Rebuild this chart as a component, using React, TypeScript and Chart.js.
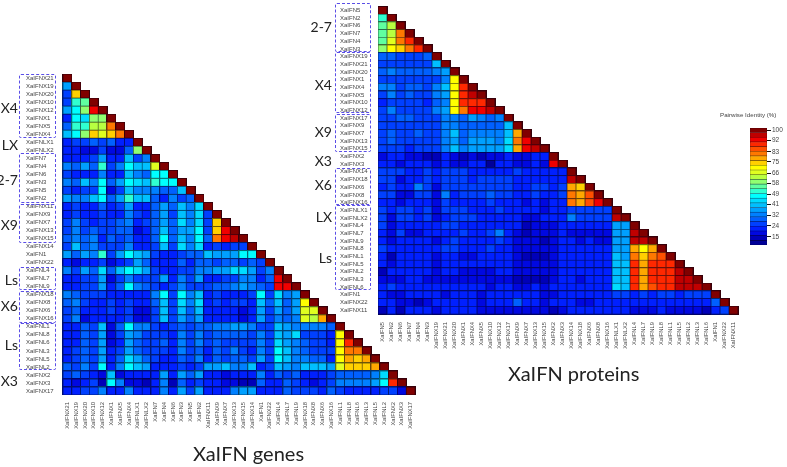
import React, { useEffect, useRef } from "react";
import { Chart, registerables } from "chart.js";

Chart.register(...registerables);

// ---------- data ----------
const geneLabels = [
  "XaIFNX21","XaIFNX19","XaIFNX20","XaIFNX10","XaIFNX12","XaIFNX1","XaIFNX5","XaIFNX4",
  "XaIFNLX1","XaIFNLX2",
  "XaIFN7","XaIFN4","XaIFN6","XaIFN3","XaIFN5","XaIFN2",
  "XaIFNX11","XaIFNX9","XaIFNX7","XaIFNX13","XaIFNX15",
  "XaIFNX14","XaIFN1","XaIFNX22",
  "XaIFNL4","XaIFNL7","XaIFNL9",
  "XaIFNX18","XaIFNX8","XaIFNX6","XaIFNX16",
  "XaIFNL1","XaIFNL8","XaIFNL6","XaIFNL3","XaIFNL5","XaIFNL2",
  "XaIFNX2","XaIFNX3","XaIFNX17",
];

const geneIdentity: number[][] = [
  [100],
  [36,100],
  [27,71,100],
  [27,47,50,100],
  [36,43,55,89,100],
  [24,43,41,57,55,100],
  [30,46,46,60,60,78,100],
  [39,43,55,71,64,72,80,100],
  [24,27,27,30,27,30,24,24,100],
  [24,24,21,21,27,21,21,30,57,100],
  [24,24,24,27,36,24,24,40,27,33,100],
  [33,30,36,30,46,27,33,43,39,39,62,100],
  [27,24,24,24,33,24,24,39,33,30,43,43,100],
  [33,30,39,33,43,30,36,43,41,39,46,43,43,100],
  [27,24,27,27,43,21,27,40,33,33,33,30,30,38,100],
  [36,33,33,38,44,30,36,47,40,40,30,24,33,27,30,100],
  [24,27,24,24,30,24,27,36,24,24,30,36,30,39,33,41,100],
  [24,27,24,24,27,24,24,33,27,24,30,36,27,39,33,41,27,100],
  [27,33,27,24,27,27,30,33,24,27,30,36,30,41,33,41,27,71,100],
  [27,33,27,30,27,27,30,30,21,24,30,39,30,36,36,43,27,71,89,100],
  [30,33,30,33,24,30,27,30,24,24,30,43,30,39,33,43,30,78,91,94,100],
  [27,39,30,33,27,27,27,33,24,24,27,39,27,41,33,41,24,27,24,27,27,100],
  [36,30,36,33,46,27,36,44,39,36,27,24,24,27,30,30,39,36,36,36,43,43,100],
  [24,21,24,24,27,21,24,27,36,30,24,24,24,30,24,30,30,27,30,30,27,30,27,100],
  [33,27,36,30,42,30,39,43,41,36,27,24,24,27,27,33,33,36,36,41,41,36,27,33,100],
  [24,24,27,27,36,21,27,33,27,27,27,36,24,33,27,36,24,24,27,27,33,33,24,30,89,100],
  [24,24,27,27,36,24,30,44,33,30,27,24,27,33,27,27,27,30,30,33,36,33,30,27,89,89,100],
  [33,30,27,27,27,24,24,24,24,24,33,43,27,43,33,39,24,27,24,24,24,27,43,27,41,33,36,100],
  [30,33,27,24,24,27,24,27,24,24,30,39,27,41,33,41,24,27,24,27,27,24,39,30,39,30,36,66,100],
  [27,30,24,24,24,27,24,27,21,21,27,39,27,39,30,39,24,24,24,24,21,24,36,27,36,30,36,62,62,100],
  [27,33,21,24,24,24,24,27,21,21,27,39,27,36,30,36,24,24,24,24,21,24,36,27,33,30,33,62,60,75,100],
  [24,24,30,27,39,21,30,43,33,33,27,24,27,30,27,30,30,33,33,36,36,33,27,27,39,36,33,33,33,33,30,100],
  [24,24,30,27,36,21,27,36,33,27,27,27,24,33,27,33,27,30,30,30,30,27,33,27,39,36,41,27,27,27,24,66,100],
  [24,24,30,27,36,21,24,36,30,27,27,30,24,33,27,33,27,30,27,27,27,27,33,27,41,36,33,30,27,27,24,66,85,100],
  [24,27,30,27,36,24,27,36,30,27,27,27,24,33,27,30,24,30,27,33,27,24,33,27,43,39,33,30,27,27,27,68,78,78,100],
  [24,27,30,27,36,24,30,41,36,30,27,24,24,30,27,33,24,30,27,30,30,27,36,27,43,39,33,33,30,30,24,66,75,71,75,100],
  [30,27,33,27,45,24,33,45,39,36,24,24,24,27,24,27,36,36,38,33,33,39,24,27,39,36,33,39,39,39,36,62,71,71,71,75,100],
  [27,30,27,24,21,39,21,24,24,24,24,36,24,36,30,36,24,24,21,24,24,24,33,24,30,27,30,24,24,24,27,30,30,30,30,33,41,100],
  [24,21,24,27,18,44,33,21,21,18,24,33,18,30,24,27,24,24,21,21,18,18,30,24,24,30,27,24,21,24,27,33,33,33,33,36,43,85,100],
  [24,24,27,27,33,24,24,33,24,24,24,33,24,36,27,36,24,24,24,33,36,36,24,24,24,30,27,27,27,24,30,27,24,24,24,24,27,27,21,100],
];

const proteinLabels = [
  "XaIFN5","XaIFN2","XaIFN6","XaIFN7","XaIFN4","XaIFN3",
  "XaIFNX19","XaIFNX21","XaIFNX20","XaIFNX1","XaIFNX4","XaIFNX5","XaIFNX10","XaIFNX12",
  "XaIFNX17","XaIFNX9","XaIFNX7","XaIFNX13","XaIFNX15",
  "XaIFNX2","XaIFNX3",
  "XaIFNX14","XaIFNX18","XaIFNX6","XaIFNX8","XaIFNX16",
  "XaIFNLX1","XaIFNLX2",
  "XaIFNL4","XaIFNL7","XaIFNL9","XaIFNL8","XaIFNL1","XaIFNL5","XaIFNL2","XaIFNL3","XaIFNL6",
  "XaIFN1","XaIFNX22","XaIFNX11",
];

const proteinIdentity: number[][] = [
  [100],
  [46,100],
  [52,60,100],
  [50,60,79,100],
  [52,64,79,87,100],
  [57,66,72,77,85,100],
  [30,30,27,27,27,30,100],
  [27,27,27,27,27,27,38,100],
  [30,33,30,30,30,30,33,36,100],
  [27,27,27,27,27,27,27,33,66,100],
  [33,33,27,30,30,27,33,39,66,87,100],
  [27,33,27,30,27,27,33,36,66,87,92,100],
  [24,27,27,27,27,24,30,33,66,85,87,87,100],
  [27,33,27,27,27,27,33,36,66,79,89,89,94,100],
  [27,27,30,30,27,27,27,33,33,30,36,33,30,33,100],
  [27,27,27,27,27,27,27,33,33,30,30,30,30,30,39,100],
  [27,30,27,27,30,27,27,33,39,30,33,33,33,33,39,75,100],
  [27,30,27,27,27,27,27,33,36,30,36,36,36,33,41,79,88,100],
  [27,27,27,24,27,27,27,33,39,33,36,36,36,36,41,75,88,93,100],
  [21,24,24,21,21,18,18,24,21,18,21,18,21,21,24,21,21,24,24,100],
  [24,24,21,24,24,24,21,24,21,21,24,24,15,24,24,21,21,24,21,89,100],
  [27,27,27,24,24,27,24,27,27,27,24,24,24,24,24,27,24,24,24,24,24,100],
  [27,27,21,24,24,27,24,27,27,27,24,27,27,27,27,24,24,24,24,24,24,94,100],
  [24,27,24,24,33,27,21,27,27,27,27,27,27,27,27,24,24,27,27,24,27,75,71,100],
  [27,27,21,21,27,27,21,32,24,27,27,27,30,27,27,24,24,27,24,24,27,77,75,83,100],
  [24,24,21,24,24,24,21,27,24,24,24,24,27,24,24,24,21,24,21,24,24,79,75,82,90,100],
  [27,24,27,27,24,27,21,27,27,27,24,24,24,27,24,24,24,24,21,24,24,27,27,27,27,27,100],
  [27,21,27,27,24,27,21,24,27,27,27,24,24,24,24,24,21,21,24,24,24,33,27,27,27,27,94,100],
  [27,21,24,24,24,24,24,27,27,24,24,24,24,24,24,24,18,21,21,21,24,24,24,24,24,24,36,36,100],
  [24,21,27,21,21,24,24,24,24,27,24,24,27,32,24,21,18,21,21,21,24,21,21,21,21,21,36,36,94,100],
  [24,21,24,24,24,24,21,24,27,24,24,24,24,27,24,21,21,21,18,21,24,24,21,24,21,21,36,36,94,94,100],
  [27,24,24,24,24,24,24,27,27,24,24,24,27,24,24,21,21,21,21,21,24,24,24,24,24,24,36,36,75,66,75,100],
  [24,18,24,24,24,24,21,24,24,21,21,24,24,24,24,21,18,18,18,21,24,24,24,24,24,24,39,36,79,70,78,82,100],
  [24,21,24,24,24,24,21,24,24,24,24,24,24,24,24,21,21,21,21,21,24,24,24,24,24,24,40,39,84,76,84,86,86,100],
  [18,24,24,24,24,24,21,24,24,21,21,21,21,24,24,21,21,21,21,21,24,24,24,24,24,24,40,39,84,76,84,87,87,94,100],
  [21,21,21,24,24,21,21,21,21,21,21,21,21,21,21,18,18,18,18,21,24,24,21,24,24,24,39,38,86,76,85,87,87,94,94,100],
  [24,27,24,24,24,24,24,24,24,24,24,24,21,24,24,21,21,24,21,24,24,24,24,24,24,24,42,40,84,75,83,86,86,94,94,94,100],
  [24,21,21,24,24,24,24,21,24,24,24,21,24,24,24,24,24,24,21,21,24,24,24,24,24,24,27,27,24,27,24,27,27,24,27,27,27,100],
  [24,24,21,21,18,21,24,24,24,24,24,21,24,24,24,30,24,24,21,24,24,24,21,21,24,24,24,24,24,24,24,24,24,24,24,24,24,30,100],
  [18,24,18,24,24,24,21,24,24,24,24,21,21,21,21,21,21,21,21,18,21,24,24,24,24,24,24,24,21,21,21,24,21,21,21,21,18,24,27,100],
];

const levelColors = [
  "#000098","#0000b8","#0008e0","#0020ff","#0040ff","#0060ff","#0080ff","#00a0ff","#00c0ff","#00dcff",
  "#00ffff","#30ffd0","#60ffa0","#90ff70","#b8ff40","#e0ff20","#ffff00","#ffd000","#ffa800","#ff7800",
  "#ff5000","#ff2800","#f00000","#c00000","#800000",
];
const levelUpper = [16,19.5,22.5,25.5,28.5,31.5,34.5,37.5,40,42,45,48,53,58,61,65,68.7,72.5,76.2,80,83.7,87.4,91.2,96,101];
const barEdges = [8.6,12.3,16.1,19.8,23.6,27.3,31,34.8,38.5,42.2,46,49.7,53.5,57.2,61,64.7,68.4,72.2,75.9,79.7,83.4,87.1,90.9,94.6,98.4,102];
const barTicks = [15,24,32,41,49,58,66,75,83,92,100];

const geneGroups = [
  { text: "X4", y: 108 }, { text: "LX", y: 145 }, { text: "2-7", y: 180 }, { text: "X9", y: 225 },
  { text: "Ls", y: 280 }, { text: "X6", y: 306 }, { text: "Ls", y: 345 }, { text: "X3", y: 381 },
];
const geneBoxes = [[74,138],[153,203],[204,243],[267,290],[291,323],[323,370]];
const proteinGroups = [
  { text: "2-7", y: 27 }, { text: "X4", y: 85 }, { text: "X9", y: 132 }, { text: "X3", y: 161 },
  { text: "X6", y: 185 }, { text: "LX", y: 217 }, { text: "Ls", y: 258 },
];
const proteinBoxes = [[3,52],[52,113],[114,152],[168,205],[205,290]];

// ---------- helpers ----------
const WIDTH = 787;
const HEIGHT = 467;
const TEXT_FONT = "'Liberation Sans', Arial, sans-serif";

function colorFor(v: number): string {
  const i = levelUpper.findIndex((u) => v <= u);
  return levelColors[i < 0 ? levelColors.length - 1 : i];
}

function darken(hex: string): string {
  const n = parseInt(hex.slice(1), 16);
  const f = 0.42;
  const r = Math.round(((n >> 16) & 255) * f);
  const g = Math.round(((n >> 8) & 255) * f);
  const b = Math.round((n & 255) * f);
  return `rgb(${r},${g},${b + 10})`;
}

function makeSprite(color: string, w: number, h: number): HTMLCanvasElement {
  const c = document.createElement("canvas");
  c.width = w;
  c.height = h;
  const g = c.getContext("2d")!;
  g.fillStyle = color;
  g.fillRect(0, 0, w, h);
  g.strokeStyle = darken(color);
  g.lineWidth = 1;
  g.strokeRect(0.5, 0.5, w - 1, h - 1);
  return c;
}

function heatmap(
  canvas: HTMLCanvasElement,
  labels: string[],
  rows: number[][],
  area: { left: number; top: number; right: number; bottom: number },
  yAxisWidth: number,
  xAxisHeight: number,
  xPad: number,
  sprite: { w: number; h: number },
) {
  const cache = new Map<string, HTMLCanvasElement>();
  const points: { x: string; y: string }[] = [];
  const styles: HTMLCanvasElement[] = [];
  rows.forEach((row, r) =>
    row.forEach((v, c) => {
      const col = colorFor(v);
      if (!cache.has(col)) cache.set(col, makeSprite(col, sprite.w, sprite.h));
      points.push({ x: labels[c], y: labels[r] });
      styles.push(cache.get(col)!);
    }),
  );
  return new Chart(canvas, {
    type: "scatter",
    data: {
      datasets: [
        { data: points as any, pointStyle: styles as any, pointRadius: 3, clip: false as any },
      ],
    },
    options: {
      animation: false,
      responsive: false,
      events: [],
      layout: {
        padding: {
          left: area.left - yAxisWidth,
          top: area.top,
          right: WIDTH - area.right,
          bottom: HEIGHT - area.bottom - xAxisHeight,
        },
      },
      plugins: { legend: { display: false }, tooltip: { enabled: false } },
      scales: {
        x: {
          type: "category",
          labels,
          offset: true,
          grid: { display: false, drawTicks: false },
          border: { display: false },
          afterFit: (s: any) => { s.height = xAxisHeight; },
          ticks: {
            autoSkip: false,
            minRotation: 90,
            maxRotation: 90,
            padding: xPad,
            color: "#444",
            font: { family: TEXT_FONT, size: 5.8 },
          },
        },
        y: {
          type: "category",
          labels,
          offset: true,
          grid: { display: false, drawTicks: false },
          border: { display: false },
          afterFit: (s: any) => { s.width = yAxisWidth; },
          ticks: {
            autoSkip: false,
            crossAlign: "far",
            color: "#444",
            font: { family: TEXT_FONT, size: 6 },
          },
        },
      },
    },
  } as any);
}

function colorbar(canvas: HTMLCanvasElement) {
  return new Chart(canvas, {
    type: "bar",
    data: {
      labels: ["identity"],
      datasets: levelColors.map((c, i) => ({
        data: [[barEdges[i], barEdges[i + 1]]] as any,
        backgroundColor: c,
        borderColor: darken(c),
        borderWidth: 0.6,
        borderSkipped: false,
        grouped: false,
        barPercentage: 1,
        categoryPercentage: 1,
      })),
    },
    options: {
      animation: false,
      responsive: false,
      events: [],
      layout: { padding: { left: 750, top: 128, right: 0, bottom: HEIGHT - 245 } },
      plugins: { legend: { display: false }, tooltip: { enabled: false } },
      scales: {
        x: { display: false },
        y: {
          position: "right",
          min: barEdges[0],
          max: barEdges[barEdges.length - 1],
          afterFit: (s: any) => { s.width = WIDTH - 767; },
          afterBuildTicks: (s: any) => { s.ticks = barTicks.map((value) => ({ value })); },
          grid: { drawOnChartArea: false, drawTicks: true, tickLength: 4, color: "#111", lineWidth: 1 },
          border: { display: false },
          ticks: {
            autoSkip: false,
            padding: 1,
            color: "#444",
            font: { family: TEXT_FONT, size: 6.5 },
            callback: (v: any) => String(v),
          },
        },
      },
    },
  } as any);
}

// ---------- overlay text ----------
const abs: React.CSSProperties = { position: "absolute", whiteSpace: "nowrap" };

function GroupText({ text, right, y }: { text: string; right: number; y: number }) {
  return (
    <div
      style={{
        ...abs,
        left: right - 40,
        width: 40,
        top: y - 10,
        height: 20,
        lineHeight: "20px",
        textAlign: "right",
        fontFamily: "Lato, sans-serif",
        fontSize: 14,
        color: "#222",
      }}
    >
      {text}
    </div>
  );
}

function DashBox({ left, right, top, bottom }: { left: number; right: number; top: number; bottom: number }) {
  return (
    <div
      style={{
        ...abs,
        left,
        top,
        width: right - left,
        height: bottom - top,
        boxSizing: "border-box",
        border: "1.4px dashed #5a4ee6",
        borderRadius: 2,
      }}
    />
  );
}

export default function App() {
  const geneRef = useRef<HTMLCanvasElement>(null);
  const proteinRef = useRef<HTMLCanvasElement>(null);
  const barRef = useRef<HTMLCanvasElement>(null);

  useEffect(() => {
    const a = heatmap(
      geneRef.current!, geneLabels, geneIdentity,
      { left: 63, top: 74, right: 415, bottom: 395 }, 37, 40, 7, { w: 10, h: 9 },
    );
    const b = heatmap(
      proteinRef.current!, proteinLabels, proteinIdentity,
      { left: 378, top: 6, right: 738, bottom: 314 }, 38, 40, 8, { w: 10, h: 9 },
    );
    const c = colorbar(barRef.current!);
    return () => { a.destroy(); b.destroy(); c.destroy(); };
  }, []);

  const canvasStyle: React.CSSProperties = { position: "absolute", left: 0, top: 0, filter: "blur(0.35px)" };

  return (
    <div style={{ position: "fixed", left: 0, top: 0, width: WIDTH, height: HEIGHT, overflow: "hidden", background: "#fff" }}>
      <canvas ref={geneRef} width={WIDTH} height={HEIGHT} style={canvasStyle} />
      <canvas ref={proteinRef} width={WIDTH} height={HEIGHT} style={canvasStyle} />
      <canvas ref={barRef} width={WIDTH} height={HEIGHT} style={canvasStyle} />
      {geneBoxes.map(([t, b], i) => <DashBox key={"gb" + i} left={19} right={56} top={t} bottom={b} />)}
      {proteinBoxes.map(([t, b], i) => <DashBox key={"pb" + i} left={335} right={371} top={t} bottom={b} />)}
      {geneGroups.map((g, i) => <GroupText key={"gg" + i} text={g.text} right={18} y={g.y} />)}
      {proteinGroups.map((g, i) => <GroupText key={"pg" + i} text={g.text} right={332} y={g.y} />)}
      <div style={{ ...abs, left: 193, top: 441, fontFamily: "Lato, sans-serif", fontSize: 20, lineHeight: "24px", color: "#222" }}>XaIFN genes</div>
      <div style={{ ...abs, left: 508, top: 361, fontFamily: "Lato, sans-serif", fontSize: 20, lineHeight: "24px", color: "#222" }}>XaIFN proteins</div>
      <div style={{ ...abs, left: 720, top: 111, fontFamily: TEXT_FONT, fontSize: 6.2, lineHeight: "8px", color: "#444" }}>Pairwise Identity (%)</div>
    </div>
  );
}
